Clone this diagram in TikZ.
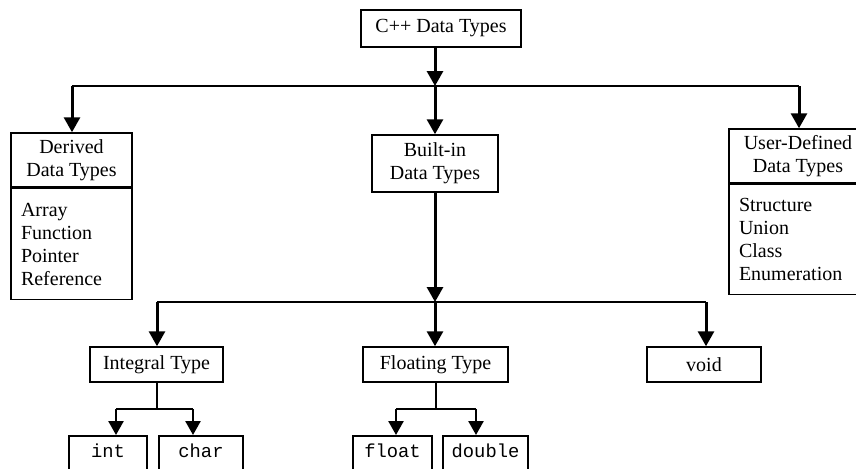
\documentclass[tikz,border=0pt]{standalone}
\usepackage{fontspec}
\setmainfont{Liberation Serif}
\setmonofont{Liberation Mono}
\usetikzlibrary{arrows.meta}
\begin{document}
\begin{tikzpicture}[x=0.5pt,y=-0.5pt,
  box/.style={draw, line width=0.75pt, inner sep=0pt, font=\fontsize{10}{11.5}\selectfont, align=center},
  listbox/.style={draw, line width=0.75pt, inner xsep=5pt, inner ysep=0pt, font=\fontsize{10}{11.5}\selectfont, align=left},
  codebox/.style={draw, line width=0.75pt, inner sep=0pt, anchor=north, text height=11pt, text depth=20pt, font=\fontsize{9.4}{11}\ttfamily},
  arr/.style={line width=1.5pt, -{Triangle[length=7.5pt,width=8pt]}},
  sarr/.style={line width=1.25pt, -{Triangle[length=7pt,width=7.5pt]}},
  bus/.style={line width=1pt},
  sbus/.style={line width=1pt}]
\fill[white] (0,0) rectangle (856,468);
\useasboundingbox (0,0) rectangle (856,468);
\clip (0,0) rectangle (856,468);

% nodes
\node[box, minimum width=80pt, minimum height=18.5pt] (top) at (441,28.5) {C++ Data Types};

\node[box, minimum width=60.5pt, minimum height=27pt] (derH) at (71.5,160) {Derived\\Data Types};
\node[listbox, text width=50.5pt, minimum height=55.5pt, anchor=north] (derB) at (derH.south) {Array\\Function\\Pointer\\Reference};

\node[box, minimum width=63pt, minimum height=28.5pt] (built) at (435,163.5) {Built-in\\Data Types};

\node[box, minimum width=69pt, minimum height=27pt] (userH) at (798,156) {User-Defined\\Data Types};
\node[listbox, text width=59pt, minimum height=55pt, anchor=north] (userB) at (userH.south) {Structure\\Union\\Class\\Enumeration};

\node[box, minimum width=66.5pt, minimum height=17.5pt] (integral) at (156.5,364.5) {Integral Type};
\node[box, minimum width=72.5pt, minimum height=17.5pt] (floating) at (435.5,364.5) {Floating Type};
\node[box, minimum width=57pt, minimum height=17.5pt] (void) at (704,364.5) {void};

\node[codebox, minimum width=39pt] (int) at (108,435) {int};
\node[codebox, minimum width=42pt] (char) at (201,435) {char};
\node[codebox, minimum width=39.5pt] (float) at (392.5,435) {float};
\node[codebox, minimum width=42.5pt] (double) at (485.5,435) {double};

% top level
\coordinate (busC) at (435,86);
\coordinate (busL) at (72,86);
\coordinate (busR) at (799,86);
\draw[bus] (busL) -- (busR);
\draw[arr] (top.south -| busC) -- (busC);
\draw[arr] (busC) -- (built.north);
\draw[arr] (busL) -- (busL |- derH.north);
\draw[arr] (busR) -- (busR |- userH.north);

% built-in level
\coordinate (bus2C) at (435,302);
\coordinate (bus2L) at (157,302);
\coordinate (bus2R) at (706,302);
\draw[bus] (bus2L) -- (bus2R);
\draw[arr] (built.south) -- (bus2C);
\draw[arr] (bus2C) -- (bus2C |- floating.north);
\draw[arr] (bus2L) -- (bus2L |- integral.north);
\draw[arr] (bus2R) -- (bus2R |- void.north);

% integral subtree
\coordinate (iC) at (156.5,409);
\coordinate (iL) at (116,409);
\coordinate (iR) at (193,409);
\draw[sbus] (integral.south) -- (iC);
\draw[sbus] (iL) -- (iR);
\draw[sarr] (iL) -- (iL |- int.north);
\draw[sarr] (iR) -- (iR |- char.north);

% floating subtree
\coordinate (fC) at (436,409);
\coordinate (fL) at (396,409);
\coordinate (fR) at (476,409);
\draw[sbus] (floating.south -| fC) -- (fC);
\draw[sbus] (fL) -- (fR);
\draw[sarr] (fL) -- (fL |- float.north);
\draw[sarr] (fR) -- (fR |- double.north);
\end{tikzpicture}
\end{document}
